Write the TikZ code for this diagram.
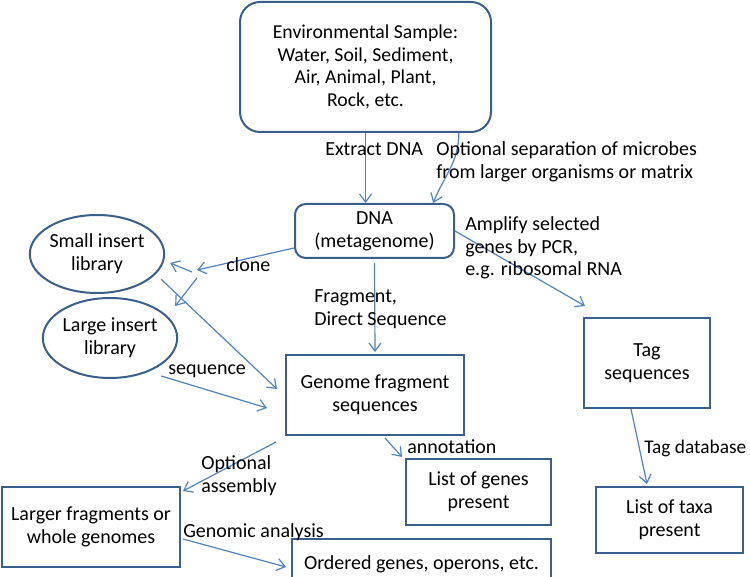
\documentclass[tikz,border=0pt]{standalone}
\usepackage{fontspec}
\setmainfont{Carlito}
\usetikzlibrary{arrows.meta,shapes.geometric}
\definecolor{bleucadre}{HTML}{3A5F8B}
\definecolor{bleufleche}{HTML}{4F81BD}
\tikzset{
	boite/.style	= {draw=bleucadre, line width=1.5pt, align=center, inner sep=0pt},
	arrondi/.style	= {boite, rounded corners=15pt},
	bulle/.style	= {boite, ellipse},
	fleche/.style	= {draw=bleufleche, line width=0.9pt, -{Straight Barb[length=6pt,width=9pt]}},
	legende/.style	= {inner sep=0pt, align=left, anchor=west},
}
\begin{document}
\begin{tikzpicture}[x=0.75pt, y=-0.75pt, font=\fontsize{15}{17}\selectfont]
				% Cadre
				\useasboundingbox		(0,0)	rectangle	(750,577)	;
				% Boites arrondies
				\node [arrondi, minimum width=188.25pt, minimum height=97.5pt, font=\fontsize{14.8}{16.8}\selectfont]	(env)	at (365.5, 67)
					{Environmental Sample:\\Water, Soil, Sediment,\\Air, Animal, Plant,\\Rock, etc.};
				\node [arrondi, rounded corners=8pt, minimum width=119.25pt, minimum height=40.5pt]	(dna)	at (374.5, 231)
					{DNA\\(metagenome)};
				% Ellipses
				\node [bulle, minimum width=84.75pt, minimum height=58.5pt]	(small)	at (97, 254)	{Small insert\\library};
				\node [bulle, minimum width=85.5pt, minimum height=60pt]	(large)	at (110, 338)	{Large insert\\library};
				% Rectangles
				\node [boite, minimum width=133.5pt, minimum height=60pt]	(genome)	at (375, 395)	{Genome fragment\\sequences};
				\node [boite, minimum width=94.5pt, minimum height=67.5pt]	(tag)		at (647, 363)	{Tag\\sequences};
				\node [boite, minimum width=110.25pt, minimum height=49.5pt]	(taxa)		at (669.5, 520)	{List of taxa\\present};
				\node [boite, minimum width=108.75pt, minimum height=49.5pt]	(genes)		at (478.5, 492)	{List of genes\\present};
				\node [boite, minimum width=133.5pt, minimum height=60pt]	(larger)	at (91, 527)	{Larger fragments or\\whole genomes};
				\node [boite, minimum width=194.25pt, minimum height=37.5pt]	(ordered)	at (421.5, 564)	{Ordered genes, operons, etc.};
				% Point de clonage
				\coordinate	(clone)	at (195, 274);
				% Fleches
				\draw [fleche]	(env.south)	-- (env.south |- dna.north);
				\draw [fleche]	([xshift=70]env.south)	to [out=-90, in=68]	([xshift=44]dna.north);
				\draw [fleche]	(dna.east)	-- ([shift={(2,-11)}]tag.north west);
				\draw [fleche]	([shift={(-16,0)}]tag.south)	-- ([shift={(-22.5,-2)}]taxa.north);
				\draw [fleche]	([shift={(0,4)}]dna.south)	-- ([shift={(0,-2)}]genome.north);
				\draw [fleche]	([shift={(0,17)}]dna.west)	-- ([shift={(2,-4)}]clone);
				\draw [fleche]	([shift={(-3,-2)}]clone)	-- ([shift={(5,9)}]small.east);
				\draw [fleche]	([shift={(2,4)}]clone)	-- ([shift={(17,-3)}]large.north east);
				\draw [fleche]	([shift={(16,-3)}]small.south east)	-- ([shift={(-8,-6)}]genome.west);
				\draw [fleche]	([shift={(3,9)}]large.south east)	-- ([shift={(-18,13)}]genome.west);
				\draw [fleche]	([shift={(-9,6)}]genome.south west)	-- ([shift={(2,5)}]larger.north east);
				\draw [fleche]	([shift={(10,2)}]genome.south)	-- ([shift={(-3,-1)}]genes.north west);
				\draw [fleche]	([shift={(2,12)}]larger.east)	-- ([shift={(-5,3)}]ordered.west);
				% Legendes
				\node [legende]	(lextract)	at (325, 149)	{Extract DNA};
				\node [legende]	(lsep)		at (436, 161.5)	{Optional separation of microbes\\from larger organisms or matrix};
				\node [legende]	(lamp)		at (465, 248)	{Amplify selected\\genes by PCR,\\e.g. ribosomal RNA};
				\node [legende]	(lclone)	at (226, 265)	{clone};
				\node [legende]	(lfrag)		at (314, 309)	{Fragment,\\Direct Sequence};
				\node [legende]	(lseq)		at (168, 371)	{sequence};
				\node [legende]	(lassem)	at (201, 475.5)	{Optional\\assembly};
				\node [legende]	(lannot)	at (407, 447)	{annotation};
				\node [legende]	(lgenomic)	at (183, 532)	{Genomic analysis};
				\node [legende, font=\fontsize{14.5}{17}\selectfont]	(ltagdb)	at (644, 448)	{Tag database};
\end{tikzpicture}
\end{document}
